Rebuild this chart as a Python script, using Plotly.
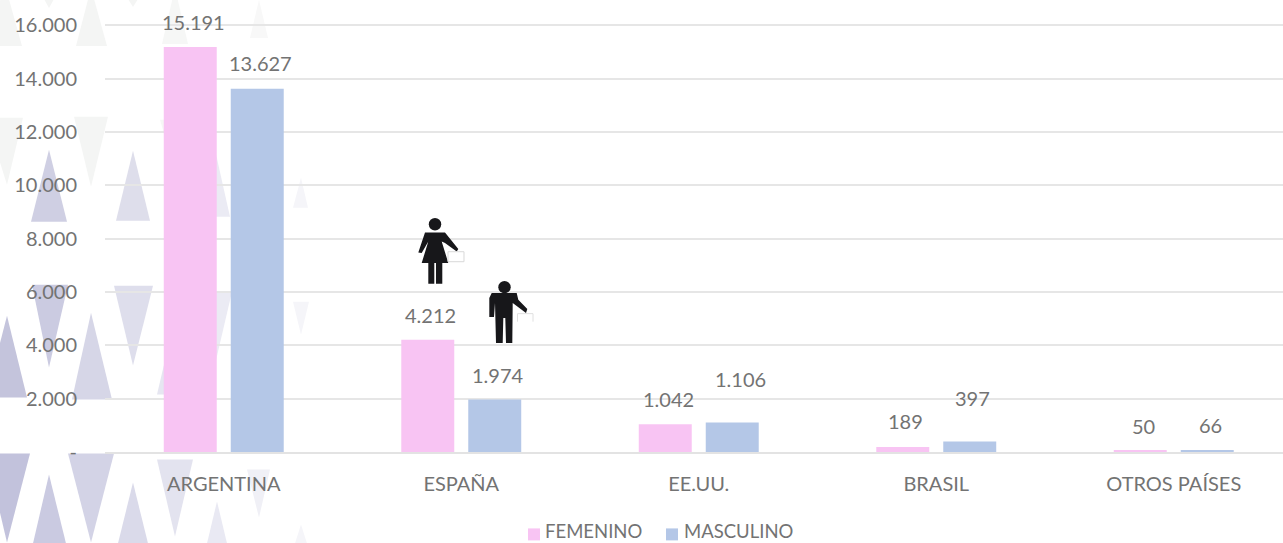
import plotly.graph_objects as go

categories = ["ARGENTINA", "ESPAÑA", "EE.UU.", "BRASIL", "OTROS PAÍSES"]
femenino = [15191, 4212, 1042, 189, 50]
masculino = [13627, 1974, 1106, 397, 66]
series_names = ["FEMENINO", "MASCULINO"]
y_ticks = [0, 2000, 4000, 6000, 8000, 10000, 12000, 14000, 16000]
y_labels = ["-", "2.000", "4.000", "6.000", "8.000", "10.000", "12.000", "14.000", "16.000"]

FONT = "Lato"
TXT = "#737373"
PINK, BLUE = "#f8c4f3", "#b4c7e7"
L, B = 105, 452.5


def px(x, y):
    return (x - L) / (1283 - L), (B - y) / B


def poly(points, fill, line=None, width=0, closed=True):
    d = ""
    for i, (x, y) in enumerate(points):
        a, b = px(x, y)
        d += ("M" if i == 0 else "L") + f"{a:.5f},{b:.5f}"
    return dict(type="path", path=d + ("Z" if closed else ""), xref="paper", yref="paper", layer="below",
                fillcolor=fill, line=dict(width=width, color=line or fill))


def circle(cx, cy, r, fill):
    x0, y0 = px(cx - r, cy - r)
    x1, y1 = px(cx + r, cy + r)
    return dict(type="circle", xref="paper", yref="paper", x0=x0, y0=y0, x1=x1, y1=y1,
                fillcolor=fill, line=dict(width=0), layer="above")


def tri(left, right, base, apex_x, apex_y, fill):
    return poly([(left, base), (right, base), (apex_x, apex_y)], fill)


G = "#f4f5f4"
shapes = [
    tri(-14, 22, 46, 5, -15, G), tri(76, 107, 46, 91, -12, G), tri(162, 188, 44, 175, -12, "#f6f7f6"),
    tri(250, 268, 38, 259, 0, "#f8f8f8"),
    tri(44, 54, -1, 49, 8, G), tri(128, 138, -1, 133, 7, G),
    tri(-14, 23, 118, 7, 185, G), tri(74, 108, 117, 91, 187, G), tri(160, 190, 120, 175, 172, "#f6f7f6"),
    tri(31, 67, 222, 49, 150, "#cfcfe3"), tri(116, 150, 221, 133, 151, "#dedeeb"),
    tri(200, 230, 217, 215, 150, "#ebebf4"), tri(293, 308, 208, 301, 178, "#f5f5f9"),
    tri(32, 68, 285, 49, 368, "#cbcbe1"), tri(114, 153, 286, 133, 366, "#dedeec"),
    tri(200, 232, 292, 215, 365, "#ebebf4"), tri(293, 309, 302, 301, 335, "#f5f5f9"),
    tri(-14, 27, 398, 7, 316, "#c4c4dc"), tri(72, 112, 400, 91, 313, "#d6d6e7"),
    tri(157, 193, 395, 175, 318, "#e6e6f1"),
    tri(-14, 30, 454, 7, 543, "#c2c2dc"), tri(68, 114, 454, 91, 543, "#d3d3e6"),
    tri(157, 193, 460, 175, 537, "#e3e3ef"), tri(247, 270, 470, 259, 518, "#f0f0f6"),
    tri(33, 66, 544, 49, 475, "#cacae1"), tri(118, 148, 544, 133, 483, "#dadaea"),
    tri(207, 227, 544, 217, 502, "#e9e9f3"), tri(295, 307, 544, 301, 525, "#f5f5f9"),
]

K = "#17171a"
figure_parts = [
    circle(435, 224.5, 6.2, K),
    # woman
    poly([(425, 232.7), (445, 232.7), (458.3, 249.3), (456.7, 251.7), (445, 243.3), (441.7, 241.7),
          (448.3, 263.3), (442.3, 263.3), (442.3, 284), (436, 284), (436, 263.3), (434.3, 263.3),
          (434.3, 284), (428.3, 284), (428.3, 263.3), (421.7, 263.3), (428.3, 241.7), (421.7, 253.3),
          (418.3, 252.7)], K),
    poly([(448, 252), (464, 252), (464, 262), (448, 262)], "#ffffff", "#d9d9d9", 1),
    circle(504.5, 287.5, 6.2, K),
    # man
    poly([(491.7, 293.3), (516.7, 293.3), (518.3, 300), (527.3, 309.3), (526, 313.3), (512.7, 303.3),
          (512.3, 343.3), (506, 343.3), (505.3, 318.3), (503.3, 318.3), (502.7, 343.3), (496, 343.3),
          (495, 303.3), (494, 317.3), (489.3, 317.3), (489.3, 298.3)], K),
    poly([(517.5, 322), (517.5, 314), (533, 314), (533, 322)], "rgba(255,255,255,0)", "#e0e0e0", 1, closed=False),
]
for s in figure_parts:
    s["layer"] = "above"
shapes += figure_parts

# legend swatches
for left, col in ((528, PINK), (666, BLUE)):
    shapes.append(poly([(left, 529), (left + 12, 529), (left + 12, 541), (left, 541)], col))
    shapes[-1]["layer"] = "above"

fig = go.Figure()
fig.add_bar(name=series_names[0], x=categories, y=femenino, marker=dict(color=PINK, line=dict(width=0)))
fig.add_bar(name=series_names[1], x=categories, y=masculino, marker=dict(color=BLUE, line=dict(width=0)))

gap_f = [25, 25, 25, 26, 25]
gap_m = [26, 24, 44, 43, 25]
annotations = []
for i, c in enumerate(categories):
    for vals, gaps, dx in ((femenino, gap_f, -30.5), (masculino, gap_m, 36.5)):
        extra = 5 if vals[i] == 1106 else 0
        annotations.append(dict(x=i, y=vals[i], xref="x", yref="y", showarrow=False,
                                text=f"{vals[i]:,}".replace(",", "."),
                                xshift=dx + extra, yshift=gaps[i], yanchor="middle",
                                font=dict(family=FONT, size=20, color=TXT)))

for name, left in zip(series_names, (545, 684)):
    a, b = px(left, 531.5)
    annotations.append(dict(x=a, y=b, xref="paper", yref="paper", showarrow=False, text=name,
                            xanchor="left", yanchor="middle", borderpad=0, borderwidth=0,
                            font=dict(family=FONT, size=18.5, color=TXT)))

fig.update_layout(
    width=1283, height=543, autosize=False,
    margin=dict(l=L, r=0, t=0, b=543 - B, pad=0),
    paper_bgcolor="white", plot_bgcolor="rgba(0,0,0,0)",
    barmode="group", bargap=0.436, bargroupgap=0.209,
    shapes=shapes, annotations=annotations,
    font=dict(family=FONT, size=20, color=TXT),
    showlegend=False,
    xaxis=dict(range=[-0.5, 4.46], showgrid=False, showline=True, linecolor="#e3e3e3", linewidth=2,
               ticks="", ticklabelstandoff=13, tickfont=dict(family=FONT, size=20, color=TXT)),
    yaxis=dict(range=[0, 16955], tickvals=y_ticks, ticktext=y_labels, showgrid=True, gridcolor="#e6e6e6",
               gridwidth=2, zeroline=False, showline=False, ticks="", ticklabelstandoff=27,
               tickfont=dict(family=FONT, size=20, color=TXT)),
)
fig.write_html("out.html", config=dict(displayModeBar=False),
               post_script="document.body.style.margin='0';document.body.style.overflow='hidden';")
